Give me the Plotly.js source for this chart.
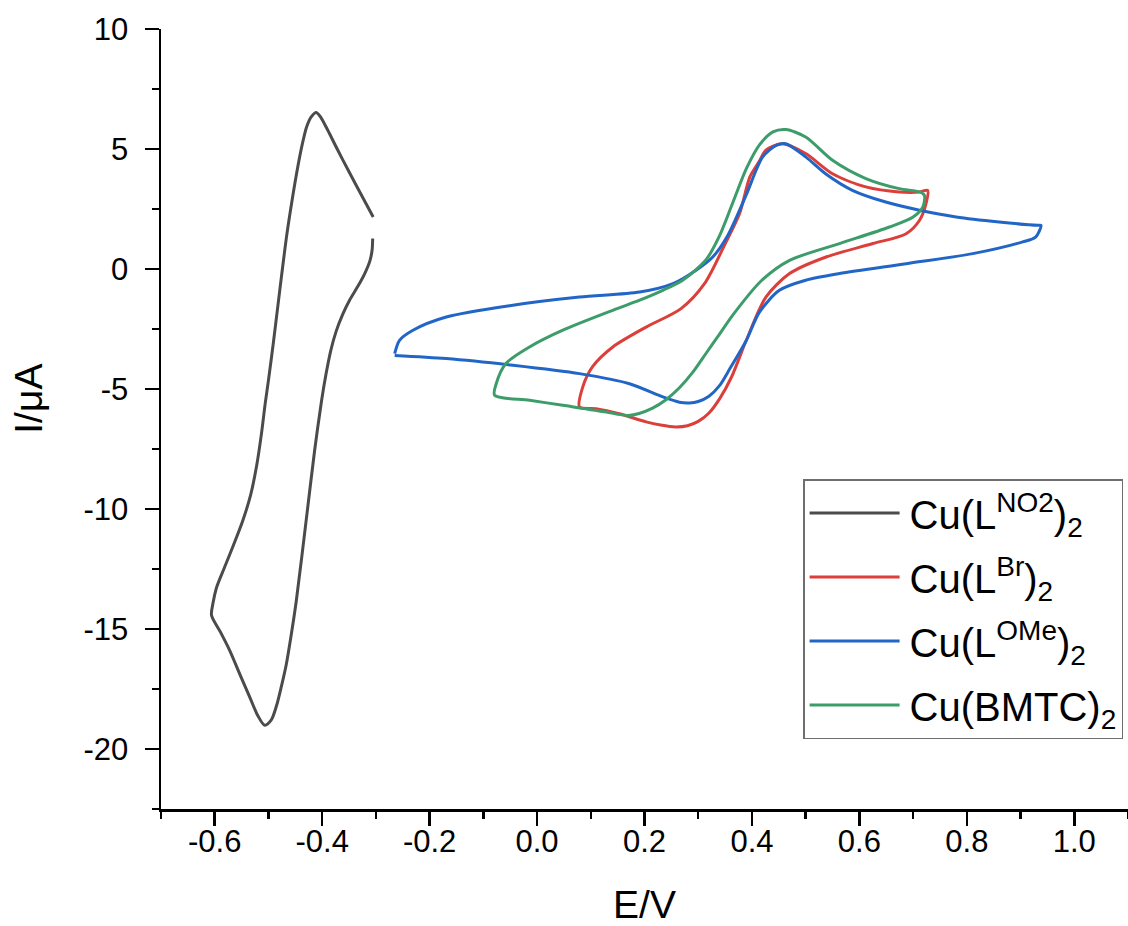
<!DOCTYPE html>
<html>
<head>
<meta charset="utf-8">
<script src="https://cdn.plot.ly/plotly-3.0.1.min.js"></script>
<style>html,body{margin:0;padding:0;background:#fff;}#chart{width:1128px;height:926px;}</style>
</head>
<body>
<div id="chart"></div>
<script>
// Series names (legend)
var seriesNames = ["Cu(L<sup>NO2</sup>)<sub>2</sub>", "Cu(L<sup>Br</sup>)<sub>2</sub>", "Cu(L<sup>OMe</sup>)<sub>2</sub>", "Cu(BMTC)<sub>2</sub>"];
var seriesColors = ["#4b4b4b", "#dc3f3a", "#2166c6", "#3c9c6a"];

// Cu(L^NO2)2 — E (V), I (µA)
var no2E = [-0.305, -0.325, -0.350, -0.372, -0.390, -0.402, -0.411, -0.420, -0.429, -0.437, -0.445, -0.455, -0.466, -0.479, -0.491, -0.500, -0.506, -0.513, -0.522, -0.533, -0.548, -0.565, -0.583, -0.597, -0.603, -0.606, -0.590, -0.572, -0.553, -0.535, -0.520, -0.507, -0.495, -0.485, -0.476, -0.467, -0.458, -0.448, -0.429, -0.414, -0.401, -0.393, -0.384, -0.374, -0.362, -0.349, -0.333, -0.321, -0.311, -0.307, -0.306];
var no2I = [2.17, 3.00, 4.05, 5.00, 5.80, 6.30, 6.52, 6.35, 5.92, 5.20, 4.30, 3.00, 1.40, -0.90, -3.10, -4.64, -5.60, -6.86, -8.20, -9.40, -10.50, -11.50, -12.50, -13.30, -13.90, -14.43, -15.10, -15.90, -16.90, -17.83, -18.60, -19.01, -18.80, -18.20, -17.40, -16.50, -15.30, -13.80, -10.33, -7.55, -5.47, -4.40, -3.40, -2.60, -1.90, -1.30, -0.70, -0.20, 0.35, 0.80, 1.27];

// Cu(L^Br)2
var brE = [0.079, 0.085, 0.103, 0.141, 0.203, 0.268, 0.312, 0.349, 0.377, 0.396, 0.414, 0.426, 0.457, 0.500, 0.550, 0.612, 0.674, 0.712, 0.727, 0.724, 0.712, 0.687, 0.625, 0.538, 0.470, 0.426, 0.389, 0.362, 0.340, 0.320, 0.300, 0.280, 0.258, 0.230, 0.203, 0.153, 0.110, 0.079];
var brI = [-5.75, -4.92, -4.08, -3.25, -2.42, -1.65, -0.60, 1.00, 2.31, 3.83, 4.50, 4.95, 5.22, 4.81, 3.97, 3.42, 3.21, 3.21, 3.28, 2.72, 2.03, 1.47, 1.06, 0.50, -0.19, -1.17, -3.00, -4.50, -5.40, -6.00, -6.35, -6.53, -6.58, -6.50, -6.37, -6.03, -5.82, -5.75];

// Cu(L^OMe)2
var omeE = [-0.265, -0.256, -0.231, -0.169, -0.045, 0.079, 0.191, 0.253, 0.296, 0.327, 0.355, 0.389, 0.420, 0.445, 0.463, 0.500, 0.537, 0.587, 0.649, 0.712, 0.780, 0.860, 0.932, 0.938, 0.928, 0.904, 0.811, 0.687, 0.563, 0.500, 0.451, 0.414, 0.389, 0.359, 0.340, 0.320, 0.300, 0.284, 0.265, 0.234, 0.172, 0.079, -0.045, -0.169, -0.265];
var omeI = [-3.53, -2.97, -2.55, -2.00, -1.51, -1.17, -0.96, -0.61, -0.05, 0.50, 1.40, 3.07, 4.67, 5.15, 5.22, 4.67, 3.97, 3.28, 2.79, 2.45, 2.17, 1.96, 1.82, 1.82, 1.33, 1.13, 0.64, 0.22, -0.19, -0.47, -0.89, -1.80, -3.00, -4.15, -4.85, -5.30, -5.52, -5.58, -5.55, -5.33, -4.78, -4.36, -4.01, -3.73, -3.60];

// Cu(BMTC)2
var bmtcE = [-0.079, -0.076, -0.058, -0.014, 0.048, 0.141, 0.191, 0.234, 0.271, 0.315, 0.340, 0.365, 0.390, 0.415, 0.439, 0.463, 0.500, 0.550, 0.612, 0.674, 0.712, 0.721, 0.718, 0.700, 0.656, 0.563, 0.470, 0.417, 0.365, 0.340, 0.315, 0.290, 0.265, 0.240, 0.215, 0.190, 0.170, 0.150, 0.129, 0.048, -0.014, -0.079];
var bmtcI = [-5.26, -4.78, -3.94, -3.25, -2.55, -1.72, -1.30, -0.89, -0.47, 0.40, 1.40, 2.80, 4.20, 5.20, 5.71, 5.81, 5.50, 4.53, 3.77, 3.35, 3.21, 3.07, 2.58, 2.17, 1.75, 1.06, 0.36, -0.50, -1.90, -2.70, -3.50, -4.30, -4.95, -5.45, -5.80, -6.02, -6.10, -6.05, -5.96, -5.68, -5.47, -5.26];

// Axis ticks and titles
var xTickVals = [-0.6, -0.4, -0.2, 0.0, 0.2, 0.4, 0.6, 0.8, 1.0];
var xTickText = ["-0.6", "-0.4", "-0.2", "0.0", "0.2", "0.4", "0.6", "0.8", "1.0"];
var xMinorVals = [-0.7, -0.5, -0.3, -0.1, 0.1, 0.3, 0.5, 0.7, 0.9, 1.1];
var yTickVals = [-20, -15, -10, -5, 0, 5, 10];
var yTickText = ["-20", "-15", "-10", "-5", "0", "5", "10"];
var yMinorVals = [-22.5, -17.5, -12.5, -7.5, -2.5, 2.5, 7.5];
var xTitle = "E/V";
var yTitle = "I/μA";

var xs = [no2E, brE, omeE, bmtcE];
var ys = [no2I, brI, omeI, bmtcI];

var traces = xs.map(function (x, i) {
  return {
    x: x, y: ys[i], type: "scatter", mode: "lines",
    name: seriesNames[i], legendgroup: "g" + i,
    line: {color: seriesColors[i], width: 3, shape: "spline", smoothing: 0.8},
    hoverinfo: "skip"
  };
});

var FONT = "Arial, 'Liberation Sans', sans-serif";
var layout = {
  width: 1128, height: 926,
  margin: {l: 161, r: 0, t: 29, b: 117, pad: 0},
  paper_bgcolor: "#ffffff", plot_bgcolor: "#ffffff",
  font: {family: FONT, color: "#000000"},
  showlegend: true,
  legend: {
    x: 0.664, y: 0.423, xanchor: "left", yanchor: "top",
    bgcolor: "#ffffff", bordercolor: "#6e6e6e", borderwidth: 1.5,
    font: {family: FONT, size: 40, color: "#000000"},
    itemwidth: 95, tracegroupgap: 9, traceorder: "grouped"
  },
  xaxis: {
    range: [-0.7, 1.1], showgrid: false, zeroline: false,
    showline: true, linecolor: "#000000", linewidth: 2.5,
    ticks: "outside", ticklen: 14, tickwidth: 2.5, tickcolor: "#000000",
    tickmode: "array", tickvals: xTickVals, ticktext: xTickText,
    tickfont: {family: FONT, size: 31, color: "#000000"},
    ticklabelstandoff: -11,
    minor: {tickmode: "array", tickvals: xMinorVals, ticks: "outside", ticklen: 7, tickwidth: 2.5, tickcolor: "#000000", showgrid: false},
    title: {text: xTitle, font: {family: FONT, size: 39, color: "#000000"}, standoff: 48}
  },
  yaxis: {
    range: [-22.5, 10], showgrid: false, zeroline: false,
    showline: true, linecolor: "#000000", linewidth: 2.5,
    ticks: "outside", ticklen: 14, tickwidth: 2.5, tickcolor: "#000000",
    tickmode: "array", tickvals: yTickVals, ticktext: yTickText,
    tickfont: {family: FONT, size: 31, color: "#000000"},
    ticklabelstandoff: 10,
    minor: {tickmode: "array", tickvals: yMinorVals, ticks: "outside", ticklen: 7, tickwidth: 2.5, tickcolor: "#000000", showgrid: false}
  },
  annotations: [{
    text: yTitle, xref: "paper", yref: "paper", x: -0.1365, y: 0.526,
    xanchor: "center", yanchor: "middle", textangle: -90, showarrow: false,
    font: {family: FONT, size: 39, color: "#000000"}
  }]
};

Plotly.newPlot("chart", traces, layout, {displayModeBar: false, staticPlot: true}).then(function (gd) {
  // lengthen the legend sample lines to match the reference
  gd.querySelectorAll(".legendlines path").forEach(function (p) { p.setAttribute("d", "M5,0h90"); });
});
</script>
</body>
</html>
